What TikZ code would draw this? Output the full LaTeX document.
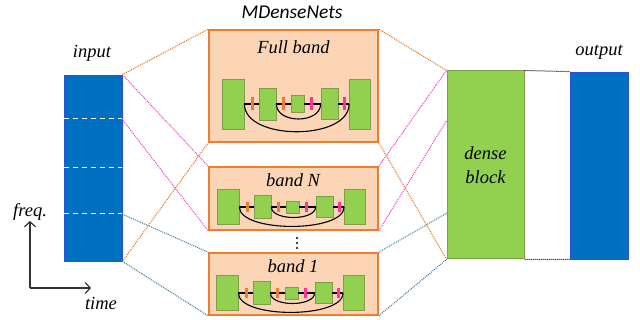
\documentclass[tikz,border=0pt]{standalone}
\usepackage{fontspec}
\setmainfont{Liberation Serif}
\newfontfamily\calfont{Carlito}
\usetikzlibrary{arrows.meta}
\definecolor{inblue}{HTML}{0070C0}
\definecolor{inborder}{HTML}{2A4FE0}
\definecolor{grn}{HTML}{92D050}
\definecolor{grnborder}{HTML}{7E9F48}
\definecolor{orfill}{HTML}{FBD5B5}
\definecolor{orborder}{HTML}{ED7D31}
\definecolor{orline}{HTML}{E4700F}
\definecolor{mgline}{HTML}{F03CC8}
\definecolor{tlline}{HTML}{3B7891}
\definecolor{tickmg}{HTML}{FF3399}
\tikzset{
  lbl/.style={font=\fontsize{18.5}{22}\selectfont\itshape, inner sep=0pt},
  bandbox/.style={draw=orborder, fill=orfill, line width=1.6pt, inner sep=0pt, minimum width=169pt},
  blk/.style={draw=grnborder, fill=grn, line width=0.8pt, inner sep=0pt},
  tick/.style={fill=#1, draw=none, inner sep=0pt, minimum width=3pt},
  conn/.style={line width=1pt, dash pattern=on 1pt off 1pt},
  thinline/.style={black, line width=1.1pt},
  arcline/.style={black, line width=1.1pt},
  whitedash/.style={white, line width=1pt, dash pattern=on 5pt off 4pt},
  axisarrow/.style={line width=1.2pt, black!80, -{Straight Barb[length=5pt,width=11pt,line width=1.2pt]}},
}
\newcommand\mdband[4]{% prefix, x shift, line y, vertical scale
  \node[blk, minimum width=22pt, minimum height={#4*50pt}] (#1L) at (233+#2,#3) {};
  \node[blk, minimum width=17pt, minimum height={#4*32pt}] (#1A) at (267.5+#2,#3) {};
  \node[blk, minimum width=13pt, minimum height={#4*17pt}] (#1M) at (297.5+#2,#3) {};
  \node[blk, minimum width=17pt, minimum height={#4*31pt}] (#1B) at (329.5+#2,#3) {};
  \node[blk, minimum width=21pt, minimum height={#4*50pt}] (#1R) at (360+#2,#3) {};
  \draw[thinline] (#1L.east) -- (#1A.west);
  \draw[thinline] (#1A.east) -- (#1M.west);
  \draw[thinline] (#1M.east) -- (#1B.west);
  \draw[thinline] (#1B.east) -- (#1R.west);
  \draw[arcline] (#1L.east) .. controls +(0,{#4*37}) and +(0,{#4*37}) .. (#1R.west);
  \draw[arcline] (#1A.east) .. controls +(0,{#4*20}) and +(0,{#4*20}) .. (#1B.west);
  \node[tick=orborder, minimum height={#4*13pt}] (#1t1) at (252+#2,#3) {};
  \node[tick=orborder, minimum height={#4*13pt}] (#1t2) at (283+#2,#3) {};
  \node[tick=tickmg, minimum height={#4*13pt}] (#1t3) at (311+#2,#3) {};
  \node[tick=tickmg, minimum height={#4*13pt}] (#1t4) at (344+#2,#3) {};
}
\begin{document}
\begin{tikzpicture}[x=1pt,y=-1pt]
\useasboundingbox (0,0) rectangle (640,320);
% input
\node[draw=inborder, fill=inblue, line width=0.8pt, minimum width=58pt, minimum height=186pt, inner sep=0pt] (input) at (93,168) {};
\node[lbl] (inputlbl) at (92,53) {input};
\coordinate (i1w) at (64,119); \coordinate (i1e) at (122,119);
\coordinate (i2w) at (64,168); \coordinate (i2e) at (122,168);
\coordinate (i3w) at (64,214); \coordinate (i3e) at (122,214);
\draw[whitedash] (i1w) -- (i1e);
\draw[whitedash] (i2w) -- (i2e);
\draw[whitedash] (i3w) -- (i3e);
% axes
\coordinate (orig) at (30,288);
\coordinate (fup) at (30,221);
\coordinate (tright) at (91,288);
\draw[axisarrow] (orig) -- (fup);
\draw[axisarrow] (orig) -- (tright);
\node[lbl] (freq) at (30,212) {freq.};
\node[lbl] (time) at (101,303) {time};
% title
\node[font=\calfont\fontsize{19.5}{22}\selectfont\itshape, inner sep=0pt] (title) at (292,12) {MDenseNets};
% band boxes
\node[bandbox, minimum height=112pt] (full) at (293.5,86) {};
\node[bandbox, minimum height=63pt] (bandN) at (293.5,198.5) {};
\node[bandbox, minimum height=62pt] (band1) at (293.5,284) {};
\node[lbl] (fulllbl) at (293.5,47) {Full band};
\node[lbl] (bandNlbl) at (293,180) {band N};
\node[lbl] (band1lbl) at (293,266) {band 1};
\mdband{f}{0}{104}{1}
\mdband{n}{-5}{207}{0.7}
\mdband{o}{-6}{293}{0.7}
% vertical dots
\node[circle, fill=black, inner sep=0pt, minimum size=2.4pt] (dot1) at (297,238) {};
\node[circle, fill=black, inner sep=0pt, minimum size=2.4pt] (dot2) at (297,243) {};
\node[circle, fill=black, inner sep=0pt, minimum size=2.4pt] (dot3) at (297,248) {};
% dense block and output
\node[blk, line width=1pt, minimum width=77pt, minimum height=188pt, align=center, font=\fontsize{18.5}{24}\selectfont\itshape] (dense) at (485.5,165) {dense\\block};
\node[draw=inborder, fill=inblue, line width=0.8pt, minimum width=58pt, minimum height=187pt, inner sep=0pt] (output) at (599,165.5) {};
\node[lbl] (outputlbl) at (599,52) {output};
\coordinate (d2) at (447,120);
\coordinate (d3) at (447,213);
% connectors input -> bands
\draw[conn, orline] (input.north east) -- (full.north west);
\draw[conn, orline] (input.south east) -- (full.south west);
\draw[conn, mgline] (input.north east) -- (bandN.north west);
\draw[conn, mgline] (i1e) -- (bandN.south west);
\draw[conn, tlline] (i3e) -- (band1.north west);
\draw[conn, tlline] (input.south east) -- (band1.south west);
% connectors bands -> dense
\draw[conn, orline] (full.north east) -- (dense.north west);
\draw[conn, orline] (full.south east) -- (dense.south west);
\draw[conn, mgline] (bandN.north east) -- (dense.north west);
\draw[conn, mgline] (bandN.south east) -- (d2);
\draw[conn, tlline] (band1.north east) -- (d3);
\draw[conn, tlline] (band1.south east) -- (dense.south west);
% dense -> output
\draw[conn, black] (dense.north east) -- (output.north west);
\draw[conn, black] (dense.south east) -- (output.south west);
\end{tikzpicture}
\end{document}
